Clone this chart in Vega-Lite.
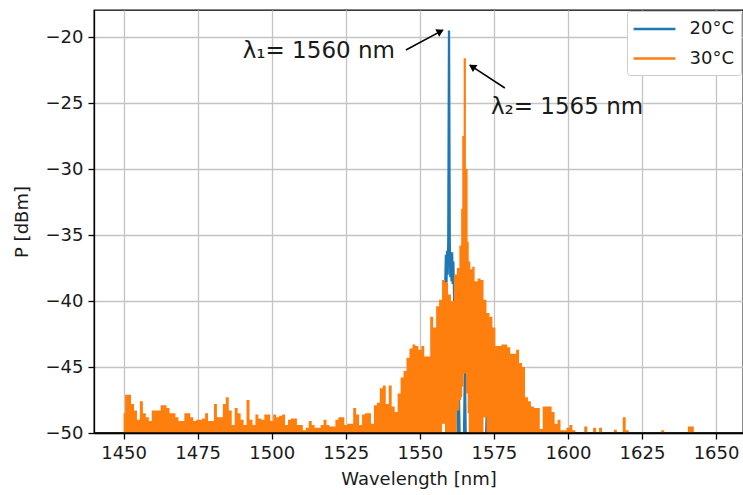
{
  "$schema": "https://vega.github.io/schema/vega-lite/v6.json",
  "width": 649,
  "height": 423,
  "autosize": {"type": "none"},
  "padding": {"left": 94, "top": 10, "right": 0, "bottom": 62},
  "background": "white",
  "config": {
    "view": {"stroke": "#000000", "strokeWidth": 1.3},
    "axis": {
      "labelFont": "DejaVu Sans", "labelFontSize": 18, "labelColor": "#1a1a1a",
      "titleFont": "DejaVu Sans", "titleFontSize": 18, "titleFontWeight": "normal", "titleColor": "#1a1a1a",
      "domainColor": "#000000", "domainWidth": 1.3, "tickColor": "#000000", "tickWidth": 1.3, "tickSize": 6,
      "gridColor": "#c4c4c4", "gridWidth": 1.3, "gridOpacity": 1, "labelFlush": false
    }
  },
  "datasets": {
    "orange": [
      {"w":1450,"p":-48.5,"lo":-50},{"w":1451,"p":-47.1,"lo":-50},{"w":1452,"p":-47.1,"lo":-50},{"w":1453,"p":-47.8,"lo":-50},
      {"w":1454,"p":-48.3,"lo":-50},{"w":1455,"p":-49.0,"lo":-50},{"w":1456,"p":-47.6,"lo":-50},{"w":1457,"p":-48.5,"lo":-50},
      {"w":1458,"p":-48.8,"lo":-50},{"w":1459,"p":-49.1,"lo":-50},{"w":1460,"p":-48.3,"lo":-50},{"w":1461,"p":-48.3,"lo":-50},
      {"w":1462,"p":-48.3,"lo":-50},{"w":1463,"p":-47.9,"lo":-50},{"w":1464,"p":-47.9,"lo":-50},{"w":1465,"p":-48.1,"lo":-50},
      {"w":1466,"p":-48.5,"lo":-50},{"w":1467,"p":-48.5,"lo":-50},{"w":1468,"p":-48.8,"lo":-50},{"w":1469,"p":-49.1,"lo":-50},
      {"w":1470,"p":-49.1,"lo":-50},{"w":1471,"p":-48.5,"lo":-50},{"w":1472,"p":-48.5,"lo":-50},{"w":1473,"p":-48.8,"lo":-50},
      {"w":1474,"p":-49.1,"lo":-50},{"w":1475,"p":-49.0,"lo":-50},{"w":1476,"p":-49.0,"lo":-50},{"w":1477,"p":-48.9,"lo":-50},
      {"w":1478,"p":-48.5,"lo":-50},{"w":1479,"p":-49.1,"lo":-50},{"w":1480,"p":-49.1,"lo":-50},{"w":1481,"p":-47.8,"lo":-50},
      {"w":1482,"p":-48.8,"lo":-50},{"w":1483,"p":-48.8,"lo":-50},{"w":1484,"p":-47.8,"lo":-50},{"w":1485,"p":-47.3,"lo":-50},
      {"w":1486,"p":-48.3,"lo":-50},{"w":1487,"p":-49.4,"lo":-50},{"w":1488,"p":-48.1,"lo":-50},{"w":1489,"p":-48.5,"lo":-50},
      {"w":1490,"p":-49.0,"lo":-50},{"w":1491,"p":-49.4,"lo":-50},{"w":1492,"p":-47.5,"lo":-50},{"w":1493,"p":-49.0,"lo":-50},
      {"w":1494,"p":-49.4,"lo":-50},{"w":1495,"p":-48.6,"lo":-50},{"w":1496,"p":-48.9,"lo":-50},{"w":1497,"p":-49.0,"lo":-50},
      {"w":1498,"p":-48.6,"lo":-50},{"w":1499,"p":-48.6,"lo":-50},{"w":1500,"p":-49.1,"lo":-50},{"w":1501,"p":-48.6,"lo":-50},
      {"w":1502,"p":-48.8,"lo":-50},{"w":1503,"p":-48.7,"lo":-50},{"w":1504,"p":-48.6,"lo":-50},{"w":1505,"p":-49.4,"lo":-50},
      {"w":1506,"p":-49.0,"lo":-50},{"w":1507,"p":-48.9,"lo":-50},{"w":1508,"p":-48.9,"lo":-50},{"w":1509,"p":-49.4,"lo":-50},
      {"w":1510,"p":-49.4,"lo":-50},{"w":1511,"p":-49.8,"lo":-50},{"w":1512,"p":-49.6,"lo":-50},{"w":1513,"p":-49.1,"lo":-50},
      {"w":1514,"p":-49.4,"lo":-50},{"w":1515,"p":-49.6,"lo":-50},{"w":1516,"p":-49.6,"lo":-50},{"w":1517,"p":-49.4,"lo":-50},
      {"w":1518,"p":-49.0,"lo":-50},{"w":1519,"p":-49.4,"lo":-50},{"w":1520,"p":-49.5,"lo":-50},{"w":1521,"p":-49.5,"lo":-50},
      {"w":1522,"p":-49.0,"lo":-50},{"w":1523,"p":-48.8,"lo":-50},{"w":1524,"p":-48.8,"lo":-50},{"w":1525,"p":-49.4,"lo":-50},
      {"w":1526,"p":-49.3,"lo":-50},{"w":1527,"p":-49.3,"lo":-50},{"w":1528,"p":-48.1,"lo":-50},{"w":1529,"p":-48.6,"lo":-50},
      {"w":1530,"p":-49.4,"lo":-50},{"w":1531,"p":-48.6,"lo":-50},{"w":1532,"p":-48.5,"lo":-50},{"w":1533,"p":-48.5,"lo":-50},
      {"w":1534,"p":-49.3,"lo":-50},{"w":1535,"p":-47.9,"lo":-50},{"w":1536,"p":-47.7,"lo":-50},{"w":1537,"p":-46.6,"lo":-50},
      {"w":1538,"p":-46.4,"lo":-50},{"w":1539,"p":-47.8,"lo":-50},{"w":1540,"p":-46.4,"lo":-50},{"w":1541,"p":-48.0,"lo":-50},
      {"w":1542,"p":-48.4,"lo":-50},{"w":1543,"p":-47.0,"lo":-50},{"w":1544,"p":-45.8,"lo":-50},{"w":1545,"p":-45.3,"lo":-50},
      {"w":1546,"p":-44.3,"lo":-50},{"w":1547,"p":-43.6,"lo":-50},{"w":1548,"p":-43.3,"lo":-50},{"w":1549,"p":-43.4,"lo":-50},
      {"w":1550,"p":-43.7,"lo":-50},{"w":1551,"p":-43.4,"lo":-50},{"w":1552,"p":-44.2,"lo":-50},{"w":1553,"p":-44.2,"lo":-50},
      {"w":1554,"p":-41.2,"lo":-50},{"w":1555,"p":-42.0,"lo":-50},{"w":1556,"p":-40.4,"lo":-50},{"w":1557,"p":-39.9,"lo":-50},
      {"w":1558,"p":-38.4,"lo":-49.3},{"w":1559,"p":-38.6,"lo":-50},{"w":1560,"p":-39.5,"lo":-50},{"w":1561,"p":-40.0,"lo":-50},
      {"w":1562,"p":-38.0,"lo":-50},{"w":1563,"p":-37.5,"lo":-48.3},{"w":1563.7,"p":-35.8,"lo":-47.5},{"w":1564.2,"p":-33.0,"lo":-47.3},
      {"w":1564.45,"p":-27.5,"lo":-46.5},{"w":1565.15,"p":-21.6,"lo":-45.5},{"w":1565.95,"p":-30.0,"lo":-47.0},{"w":1566.3,"p":-35.5,"lo":-48.5},
      {"w":1566.7,"p":-37.0,"lo":-50},{"w":1567.4,"p":-37.6,"lo":-50},{"w":1568,"p":-37.4,"lo":-50},{"w":1569,"p":-38.5,"lo":-50},
      {"w":1570,"p":-38.3,"lo":-50},{"w":1571,"p":-38.4,"lo":-50},{"w":1572,"p":-39.9,"lo":-48.8},{"w":1573,"p":-40.9,"lo":-50},
      {"w":1574,"p":-41.2,"lo":-50},{"w":1575,"p":-42.0,"lo":-50},{"w":1576,"p":-43.4,"lo":-50},{"w":1577,"p":-43.4,"lo":-50},
      {"w":1578,"p":-43.3,"lo":-50},{"w":1579,"p":-43.3,"lo":-50},{"w":1580,"p":-43.5,"lo":-50},{"w":1581,"p":-44.0,"lo":-50},
      {"w":1582,"p":-44.0,"lo":-50},{"w":1583,"p":-43.7,"lo":-50},{"w":1584,"p":-44.7,"lo":-50},{"w":1585,"p":-45.0,"lo":-50},
      {"w":1586,"p":-47.3,"lo":-50},{"w":1587,"p":-47.6,"lo":-50},{"w":1588,"p":-48.0,"lo":-50},{"w":1589,"p":-48.1,"lo":-50},
      {"w":1590,"p":-48.1,"lo":-50},{"w":1591,"p":-49.7,"lo":-50},{"w":1592,"p":-48.0,"lo":-50},{"w":1593,"p":-48.0,"lo":-50},
      {"w":1594,"p":-48.0,"lo":-50},{"w":1595,"p":-48.4,"lo":-50},{"w":1596,"p":-49.3,"lo":-50},{"w":1597,"p":-49.0,"lo":-50},
      {"w":1598,"p":-49.8,"lo":-50},{"w":1599,"p":-49.8,"lo":-50},{"w":1600,"p":-49.6,"lo":-50},{"w":1601,"p":-49.4,"lo":-50},
      {"w":1602,"p":-49.8,"lo":-50},{"w":1603,"p":-50,"lo":-50},{"w":1605,"p":-50,"lo":-50},{"w":1606,"p":-49.5,"lo":-50},
      {"w":1607,"p":-50,"lo":-50},{"w":1608,"p":-50,"lo":-50},{"w":1609,"p":-49.6,"lo":-50},{"w":1610,"p":-50,"lo":-50},
      {"w":1611,"p":-49.6,"lo":-50},{"w":1612,"p":-50,"lo":-50},{"w":1615,"p":-50,"lo":-50},{"w":1616,"p":-49.75,"lo":-50},
      {"w":1617,"p":-50,"lo":-50},{"w":1618,"p":-50,"lo":-50},{"w":1619,"p":-48.8,"lo":-50},{"w":1620,"p":-49.8,"lo":-50},
      {"w":1621,"p":-50,"lo":-50},{"w":1631,"p":-50,"lo":-50},{"w":1632,"p":-49.8,"lo":-50},{"w":1633,"p":-50,"lo":-50},
      {"w":1640,"p":-50,"lo":-50},{"w":1641,"p":-49.5,"lo":-50},{"w":1642,"p":-49.5,"lo":-50},{"w":1643,"p":-50,"lo":-50},
      {"w":1650,"p":-50,"lo":-50}
    ],
    "blue": [
      {"w":1450,"p":-50.5},{"w":1556,"p":-50.5},{"w":1557,"p":-44},{"w":1558,"p":-40},{"w":1558.6,"p":-38.6},
      {"w":1558.8,"p":-36.5},{"w":1559.0,"p":-38.6},{"w":1559.2,"p":-36.2},{"w":1559.4,"p":-38.0},{"w":1559.6,"p":-35.5},
      {"w":1559.85,"p":-19.5},{"w":1560.1,"p":-35.5},{"w":1560.3,"p":-38.2},{"w":1560.5,"p":-36.4},{"w":1560.7,"p":-38.5},
      {"w":1560.9,"p":-36.3},{"w":1561.1,"p":-38.7},{"w":1561.3,"p":-37.0},{"w":1561.6,"p":-40},{"w":1562.4,"p":-45},
      {"w":1562.9,"p":-50.5},{"w":1563.2,"p":-47.3},{"w":1563.45,"p":-50.5},{"w":1564.9,"p":-50.5},{"w":1565.2,"p":-45.3},
      {"w":1565.5,"p":-50.5},{"w":1572.3,"p":-50.5},{"w":1572.55,"p":-48.8},{"w":1572.8,"p":-50.5},{"w":1650,"p":-50.5}
    ],
    "notes": [
      {"id":1,"w":1490.2,"p":-21.6,"t":"λ₁= 1560 nm"},
      {"id":2,"w":1574.0,"p":-25.8,"t":"λ₂= 1565 nm"}
    ],
    "arrows": [
      {"id":1,"w":1545.3,"p":-20.98,"w2":1557.8,"p2":-19.47,"hw":1556.6,"hp":-19.61},
      {"id":2,"w":1578.7,"p":-23.86,"w2":1566.9,"p2":-22.12,"hw":1568.0,"hp":-22.29}
    ]
  },
  "layer": [
    {
      "data": {"name": "blue"},
      "mark": {"type": "line", "strokeWidth": 2.3, "clip": true},
      "encoding": {
        "x": {"field": "w", "type": "quantitative",
          "scale": {"domain": [1440, 1659.1], "nice": false, "zero": false},
          "axis": {"values": [1450,1475,1500,1525,1550,1575,1600,1625,1650], "format": "d", "title": "Wavelength [nm]", "labelPadding": 5, "titlePadding": 8}},
        "y": {"field": "p", "type": "quantitative",
          "scale": {"domain": [-50, -17.95], "nice": false, "zero": false},
          "axis": {"values": [-50,-45,-40,-35,-30,-25,-20], "format": "d", "title": "P [dBm]", "labelPadding": 5, "titlePadding": 14}},
        "color": {"datum": "20°C", "type": "nominal",
          "scale": {"domain": ["20°C", "30°C"], "range": ["#1f77b4", "#ff7f0e"]},
          "legend": {"title": null, "orient": "none", "legendX": 533, "legendY": 1,
            "symbolType": "M-2.2,0H2.2", "symbolSize": 361, "symbolStrokeWidth": 2.5, "symbolOffset": 9.5,
            "labelFont": "DejaVu Sans", "labelFontSize": 18, "labelColor": "#1a1a1a", "labelOffset": 24,
            "strokeColor": "#cccccc", "fillColor": "#ffffff", "padding": 7, "cornerRadius": 3, "rowPadding": 9.5,
            "encode": {"symbols": {"update": {"stroke": {"scale": "color", "field": "value"}, "strokeWidth": {"value": 2.5}, "fill": {"value": "transparent"}}}}}}
      }
    },
    {
      "data": {"name": "orange"},
      "mark": {"type": "area", "interpolate": "step", "clip": true},
      "encoding": {
        "x": {"field": "w", "type": "quantitative"},
        "y": {"field": "p", "type": "quantitative"},
        "y2": {"field": "lo"},
        "color": {"datum": "30°C", "type": "nominal"}
      }
    },
    {
      "data": {"values": [{}]},
      "mark": {"type": "rule", "color": "#000000", "strokeWidth": 1.3},
      "encoding": {"y": {"datum": -50, "type": "quantitative"}}
    },
    {
      "data": {"name": "arrows"},
      "mark": {"type": "rule", "color": "#000000", "strokeWidth": 1.5},
      "encoding": {
        "x": {"field": "w", "type": "quantitative"},
        "y": {"field": "p", "type": "quantitative"},
        "x2": {"field": "w2"},
        "y2": {"field": "p2"}
      }
    },
    {
      "data": {"name": "arrows"},
      "transform": [{"filter": "datum.id == 1"}],
      "mark": {"type": "point", "shape": "triangle", "filled": true, "size": 70, "color": "#000000", "opacity": 1, "angle": 62},
      "encoding": {
        "x": {"field": "hw", "type": "quantitative"},
        "y": {"field": "hp", "type": "quantitative"}
      }
    },
    {
      "data": {"name": "arrows"},
      "transform": [{"filter": "datum.id == 2"}],
      "mark": {"type": "point", "shape": "triangle", "filled": true, "size": 70, "color": "#000000", "opacity": 1, "angle": 303},
      "encoding": {
        "x": {"field": "hw", "type": "quantitative"},
        "y": {"field": "hp", "type": "quantitative"}
      }
    },
    {
      "data": {"name": "notes"},
      "mark": {"type": "text", "font": "DejaVu Sans", "fontSize": 23, "align": "left", "baseline": "alphabetic", "color": "#1a1a1a"},
      "encoding": {
        "x": {"field": "w", "type": "quantitative"},
        "y": {"field": "p", "type": "quantitative"},
        "text": {"field": "t"}
      }
    }
  ]
}
